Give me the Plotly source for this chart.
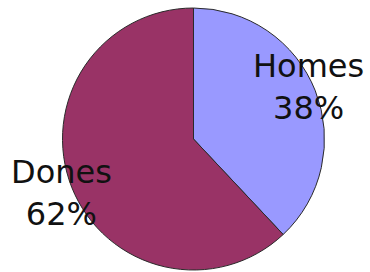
import plotly.graph_objects as go

labels = ["Homes", "Dones"]
values = [38, 62]
colors = ["#9999FF", "#993366"]

W, H = 370, 272
total = sum(values)
pcts = [round(v / total * 100) for v in values]

fig = go.Figure(go.Pie(
    labels=labels,
    values=values,
    sort=False,
    direction="clockwise",
    rotation=0,
    marker=dict(colors=colors, line=dict(color="#2a2a2a", width=1)),
    textinfo="none",
    hoverinfo="label+percent",
    showlegend=False,
    domain=dict(x=[62 / W, 325 / W], y=[2 / H, 264 / H]),
))

label_pos = [(308.5, 87), (61, 193)]
annotations = []
for lab, p, (px, py) in zip(labels, pcts, label_pos):
    annotations.append(dict(
        text=f"{lab}<br>{p}%",
        x=px / W, y=1 - py / H, xref="paper", yref="paper",
        xanchor="center", yanchor="middle", showarrow=False,
        font=dict(family="DejaVu Sans, Verdana, sans-serif", size=32, color="#111111"),
    ))

fig.update_layout(
    width=W, height=H,
    margin=dict(l=0, r=0, t=0, b=0),
    paper_bgcolor="white", plot_bgcolor="white",
    annotations=annotations,
)

fig.write_html(
    "out.html",
    config={"displayModeBar": False},
    post_script="document.body.style.margin='0';document.body.style.overflow='hidden';",
)
